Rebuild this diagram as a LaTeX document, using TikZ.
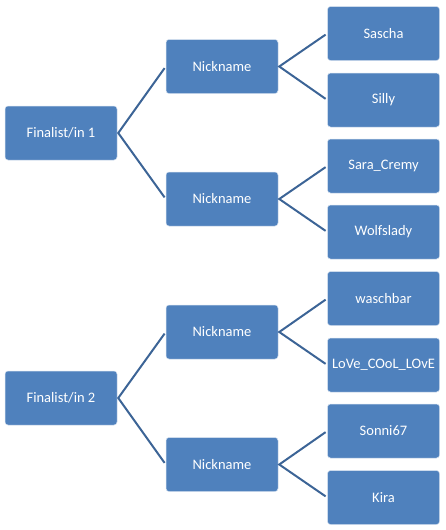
\documentclass[tikz,border=0pt]{standalone}
\usepackage{fontspec}
\setmainfont{Carlito}
\definecolor{boxblue}{HTML}{4F81BD}
\definecolor{linkblue}{HTML}{3C6496}
\begin{document}
\begin{tikzpicture}[x=1pt,y=-1pt,
  box/.style={rectangle, rounded corners=3pt, fill=boxblue, draw=white!75!boxblue, line width=0.5pt,
    minimum width=112pt, minimum height=54pt, inner sep=0pt, text=white,
    font=\fontsize{14.5pt}{17pt}\selectfont},
  link/.style={draw=linkblue, line width=2pt, shorten <=2pt, shorten >=2pt, line join=miter}]
\useasboundingbox (0,0) rectangle (445,530);
% group 1
\node[box] (r1) at (61,133) {Finalist/in 1};
\node[box] (n1a) at (222,66.5) {Nickname};
\node[box] (n1b) at (222,199) {Nickname};
\node[box] (l1) at (383.5,33.5) {Sascha};
\node[box] (l2) at (383.5,100) {Silly};
\node[box] (l3) at (383.5,166) {Sara\_Cremy};
\node[box] (l4) at (383.5,232) {Wolfslady};
% group 2
\node[box] (r2) at (61,398) {Finalist/in 2};
\node[box] (n2a) at (222,332) {Nickname};
\node[box] (n2b) at (222,464.5) {Nickname};
\node[box] (l5) at (383.5,298.5) {waschbar};
\node[box] (l6) at (383.5,365) {LoVe\_COoL\_LOvE};
\node[box] (l7) at (383.5,431) {Sonni67};
\node[box] (l8) at (383.5,497.5) {Kira};
% connectors
\draw[link] (n1a.west) -- ([xshift=1pt]r1.east) -- (n1b.west);
\draw[link] (l1.west) -- ([xshift=1pt]n1a.east) -- (l2.west);
\draw[link] (l3.west) -- ([xshift=1pt]n1b.east) -- (l4.west);
\draw[link] (n2a.west) -- ([xshift=1pt]r2.east) -- (n2b.west);
\draw[link] (l5.west) -- ([xshift=1pt]n2a.east) -- (l6.west);
\draw[link] (l7.west) -- ([xshift=1pt]n2b.east) -- (l8.west);
\end{tikzpicture}
\end{document}
